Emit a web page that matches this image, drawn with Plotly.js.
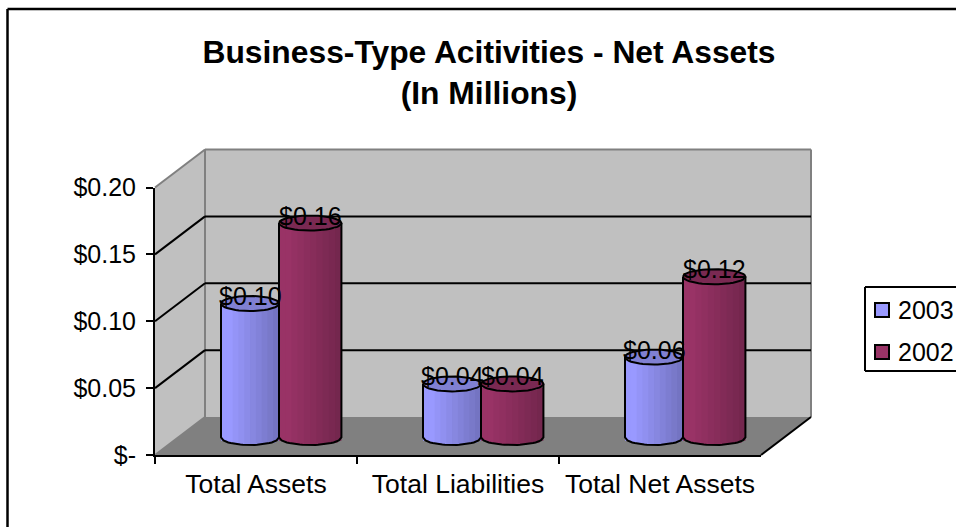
<!DOCTYPE html>
<html>
<head>
<meta charset="utf-8">
<script src="https://cdn.plot.ly/plotly-3.0.1.min.js"></script>
<style>html,body{margin:0;padding:0;background:#fff;overflow:hidden}#chart{width:956px;height:527px}</style>
</head>
<body>
<div id="chart"></div>
<script>
// Business-type activities: net assets by category, fiscal 2003 and 2002
const categories = ["Total Assets", "Total Liabilities", "Total Net Assets"];
const values2003 = [0.10, 0.04, 0.06];
const values2002 = [0.16, 0.04, 0.12];
const yTickVals = [0, 0.05, 0.10, 0.15, 0.20];
const yTickText = ["$-", "$0.05", "$0.10", "$0.15", "$0.20"];
const titleText = "Business-Type Acitivities - Net Assets<br>(In Millions)";

const W = 956, H = 527;
const FONT = "Liberation Sans, Arial, sans-serif";

// Pixel frame of the pseudo-3D box
const front = {l: 155, r: 761, zero: 455, top: 187.5};
const depth = {dx: 50, dy: -38};
// Cylinders stand halfway back in the box
const barBox = {l: 178, r: 784, zero: 437.5, pxPerUnit: 1340, below: 0.02};

const px = x => x / W;
const py = y => 1 - y / H;
const frontY = v => front.zero + (front.top - front.zero) * v / 0.2;

// ---- Walls, floor and gridlines -------------------------------------------
function poly(points, fill, line, lineW) {
  const path = points.map((p, i) => (i ? "L" : "M") + px(p[0]) + "," + py(p[1])).join(" ") + " Z";
  return {type: "path", xref: "paper", yref: "paper", path, fillcolor: fill,
          line: {color: line || "rgba(0,0,0,0)", width: lineW || 0}, layer: "below"};
}
function seg(x0, y0, x1, y1, color, width) {
  return {type: "line", xref: "paper", yref: "paper", x0: px(x0), y0: py(y0), x1: px(x1), y1: py(y1),
          line: {color, width}, layer: "below"};
}
const bx0 = front.l + depth.dx, bx1 = front.r + depth.dx;
const by0 = front.zero + depth.dy, by1 = front.top + depth.dy;
const shapes = [
  poly([[bx0, by1], [bx1, by1], [bx1, by0], [bx0, by0]], "#C0C0C0"),
  poly([[front.l, front.top], [bx0, by1], [bx0, by0], [front.l, front.zero]], "#C0C0C0"),
  poly([[front.l, front.zero], [front.r, front.zero], [bx1, by0], [bx0, by0]], "#808080"),
  seg(front.l, front.top, bx0, by1, "#808080", 2),
  seg(bx0, by1, bx1, by1, "#808080", 2),
  seg(bx0, by1, bx0, by0, "#808080", 2),
  seg(bx1, by1, bx1, by0, "#808080", 2),
  seg(front.l, front.zero, bx0, by0, "#808080", 2),
  seg(front.r, front.zero, bx1, by0, "#000000", 2)
];
yTickVals.slice(1, 4).forEach(v => {
  const y = frontY(v);
  shapes.push(seg(front.l, y, bx0, y + depth.dy, "#000000", 2));
  shapes.push(seg(bx0, y + depth.dy, bx1, y + depth.dy, "#000000", 2));
});
// Chart-area border: only the top and left edges fall inside the page
shapes.push(seg(7.5, 9, W, 9, "#000", 2.5));
shapes.push(seg(7.5, 9, 7.5, H, "#000", 2.5));

// ---- Cylinders ------------------------------------------------------------
const capDepth = 7.5 / barBox.pxPerUnit;
const arc = t => capDepth * Math.sqrt(Math.max(0, 1 - Math.pow(2 * t - 1, 2)));
const shades = [1, 1, 0.97, 0.94, 0.91, 0.88, 0.85, 0.82, 0.79, 0.76];
const mix = (rgb, f) => "rgb(" + rgb.map(c => Math.round(c * f)).join(",") + ")";

const series = [
  {name: "2003", values: values2003, rgb: [153, 153, 255], cap: "#8080D2", start: -0.287, width: 0.287},
  {name: "2002", values: values2002, rgb: [153, 51, 102], cap: "#7A2952", start: 0, width: 0.309}
];
const traces = [];

// Each cylinder is a run of narrow bars whose base follows the lower rim
series.forEach(s => {
  shades.forEach((f, k) => {
    const w = s.width / shades.length;
    const t = (k + 0.5) / shades.length;
    const overlap = k < shades.length - 1 ? w * 0.4 : 0;
    traces.push({
      type: "bar", xaxis: "x2", yaxis: "y2", name: s.name,
      x: categories.map((_, i) => i),
      y: s.values,
      base: s.values.map(() => -arc(t)),
      offset: s.start + k * w,
      width: w + overlap,
      marker: {color: mix(s.rgb, f), line: {width: 0}},
      showlegend: false,
      hoverinfo: "skip"
    });
  });
});

// Caps and outlines are derived from the same values as the bars
const STEPS = 24;
series.forEach(s => {
  const capX = [], capY = [], outX = [], outY = [];
  s.values.forEach((v, i) => {
    const x0 = i + s.start;
    for (let n = 0; n <= 2 * STEPS; n++) {
      const a = Math.PI * 2 * n / (2 * STEPS);
      capX.push(x0 + s.width * (1 - Math.cos(a)) / 2);
      capY.push(v + capDepth * Math.sin(a));
    }
    capX.push(null); capY.push(null);
    outX.push(x0); outY.push(v);
    for (let n = 0; n <= STEPS; n++) {
      const t = n / STEPS;
      outX.push(x0 + s.width * t); outY.push(-arc(t));
    }
    outX.push(x0 + s.width); outY.push(v);
    outX.push(null); outY.push(null);
  });
  traces.push({type: "scatter", mode: "lines", xaxis: "x2", yaxis: "y2", x: outX, y: outY,
               line: {color: "#000", width: 2}, showlegend: false, hoverinfo: "skip"});
  traces.push({type: "scatter", mode: "lines", xaxis: "x2", yaxis: "y2", x: capX, y: capY, fill: "toself",
               fillcolor: s.cap, line: {color: "#000", width: 2}, showlegend: false, hoverinfo: "skip"});
});

// Value labels sit on the caps
const annotations = [];
series.forEach(s => {
  s.values.forEach((v, i) => {
    annotations.push({
      xref: "x2", yref: "y2", x: i + s.start + s.width / 2, y: v,
      text: "$" + v.toFixed(2), showarrow: false, yshift: 7.5,
      font: {family: FONT, size: 25, color: "#000"}
    });
  });
});

// Legend box runs off the right edge of the page, so it is drawn by hand
const legendBox = {l: 865, t: 287, b: 371};
shapes.push(seg(legendBox.l, legendBox.t, W, legendBox.t, "#000", 2));
shapes.push(seg(legendBox.l, legendBox.b, W, legendBox.b, "#000", 2));
shapes.push(seg(legendBox.l, legendBox.t, legendBox.l, legendBox.b, "#000", 2));
series.forEach((s, i) => {
  const cy = 310 + i * 42;
  shapes.push({type: "rect", xref: "paper", yref: "paper", x0: px(875), x1: px(889), y0: py(cy - 7), y1: py(cy + 7),
               fillcolor: mix(s.rgb, 1), line: {color: "#000", width: 2}, layer: "below"});
  annotations.push({xref: "paper", yref: "paper", x: px(897), y: py(cy), xanchor: "left", yanchor: "middle",
                    text: s.name, showarrow: false, xshift: -1, font: {family: FONT, size: 25, color: "#000"}});
});

// Front axes carry the ticks and labels
traces.push({type: "scatter", mode: "none", x: categories, y: [0, 0, 0], xaxis: "x", yaxis: "y",
             showlegend: false, hoverinfo: "skip"});

const layout = {
  width: W, height: H,
  margin: {l: 0, r: 0, t: 0, b: 0},
  paper_bgcolor: "#fff",
  plot_bgcolor: "rgba(0,0,0,0)",
  barmode: "overlay",
  showlegend: false,
  font: {family: FONT, color: "#000", size: 25},
  title: {text: titleText, x: 489 / W, xanchor: "center", y: py(63), yanchor: "top",
          font: {family: FONT, size: 31.8, color: "#000", weight: 700}},
  shapes,
  annotations,
  xaxis: {
    domain: [px(front.l), px(front.r)], anchor: "y", type: "category",
    categoryorder: "array", categoryarray: categories,
    range: [-0.5, 2.5], tickson: "boundaries", ticks: "outside", ticklen: 7, tickwidth: 2, tickcolor: "#000",
    showline: true, linecolor: "#000", linewidth: 2, showgrid: false, zeroline: false, tickangle: 0,
    tickfont: {family: FONT, size: 26.5, color: "#000"}, fixedrange: true, ticklabelstandoff: 4
  },
  yaxis: {
    domain: [py(front.zero), py(front.top)], anchor: "x", range: [0, 0.2],
    tickmode: "array", tickvals: yTickVals, ticktext: yTickText,
    ticks: "outside", ticklen: 7, tickwidth: 2, tickcolor: "#000",
    showline: true, linecolor: "#000", linewidth: 2, showgrid: false, zeroline: false,
    tickfont: {family: FONT, size: 25, color: "#000"}, fixedrange: true, ticklabelstandoff: 5
  },
  xaxis2: {
    domain: [px(barBox.l), px(barBox.r)], anchor: "y2", range: [-0.5, 2.5],
    visible: false, fixedrange: true
  },
  yaxis2: {
    domain: [py(barBox.zero + barBox.below * barBox.pxPerUnit), py(barBox.zero - 0.2 * barBox.pxPerUnit)],
    anchor: "x2", range: [-barBox.below, 0.2], visible: false, fixedrange: true
  }
};

Plotly.newPlot("chart", traces, layout, {displayModeBar: false, staticPlot: true});
</script>
</body>
</html>
